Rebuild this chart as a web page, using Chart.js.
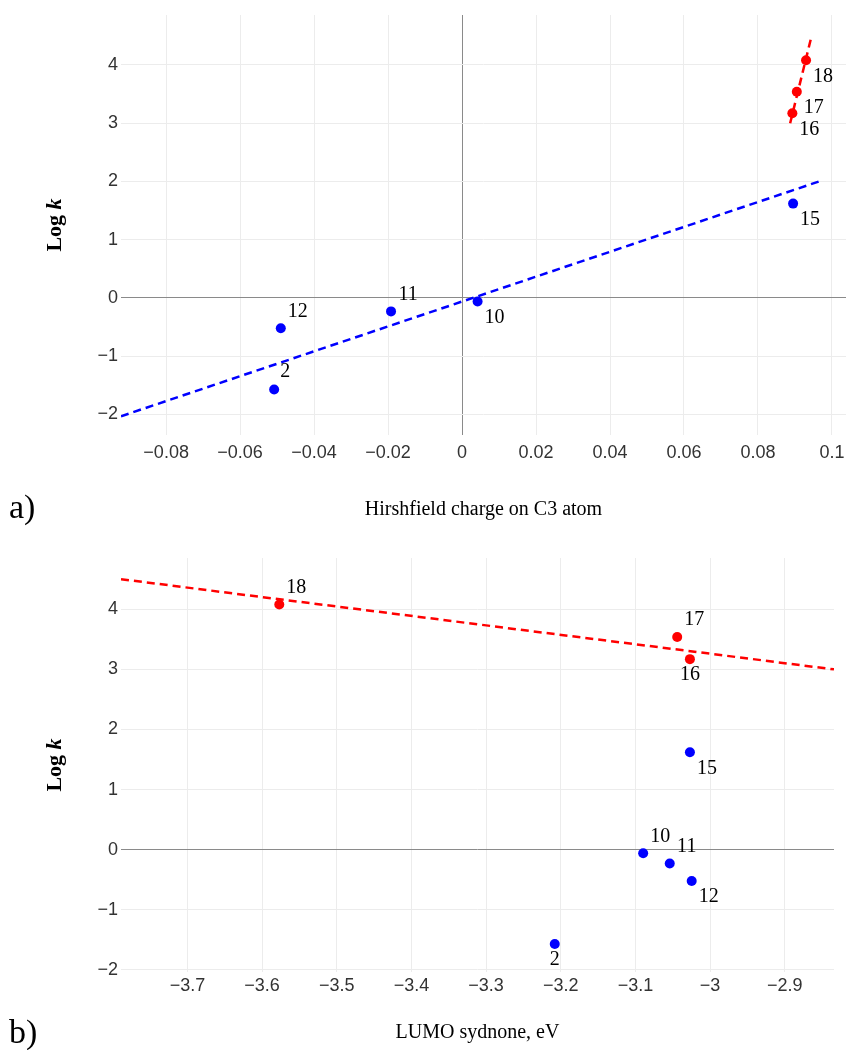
<!DOCTYPE html>
<html>
<head>
<meta charset="utf-8">
<script src="https://cdn.jsdelivr.net/npm/chart.js@4.4.1/dist/chart.umd.min.js"></script>
<style>
  html, body { margin: 0; padding: 0; background: #fff; }
  body { width: 846px; height: 1050px; position: relative; overflow: hidden; }
  canvas { position: absolute; left: 0; }
  #cA { top: 0; }
  #cB { top: 540px; }
</style>
</head>
<body>
<canvas id="cA" width="846" height="540"></canvas>
<canvas id="cB" width="846" height="510"></canvas>
<script>
// ---------- data ----------
const blueIds    = ['2', '10', '11', '12', '15'];
const blueLogK   = [-1.57, -0.06, -0.23, -0.52, 1.62];
const blueCharge = [-0.0508, 0.0042, -0.0192, -0.049, 0.0895];
const blueLumo   = [-3.208, -3.0896, -3.054, -3.0246, -3.027];

const redIds    = ['16', '17', '18'];
const redLogK   = [3.17, 3.54, 4.08];
const redCharge = [0.0893, 0.0905, 0.093];
const redLumo   = [-3.027, -3.044, -3.577];

// fitted trend lines (end points)
const fitBlueChargeX = [-0.0922, 0.0965];
const fitBlueChargeY = [-2.03, 2.0];
const fitRedChargeX  = [0.0887, 0.0945];
const fitRedChargeY  = [3.0, 4.5];
const fitRedLumoX    = [-3.789, -2.834];
const fitRedLumoY    = [4.5, 3.0];

// tick labels
const xTicksA = [-0.08, -0.06, -0.04, -0.02, 0, 0.02, 0.04, 0.06, 0.08, 0.1];
const xTicksB = [-3.7, -3.6, -3.5, -3.4, -3.3, -3.2, -3.1, -3, -2.9];
const yTicks  = [-2, -1, 0, 1, 2, 3, 4];

// axis titles / panel labels
const xTitleA = 'Hirshfield charge on C3 atom';
const xTitleB = 'LUMO sydnone, eV';
const panelA = 'a)';
const panelB = 'b)';

// label placement codes (per point, same order as ids)
const blueLabelPosA = ['nne', 'se', 'ne', 'ne', 'se'];
const redLabelPosA  = ['se', 'se', 'se'];
const blueLabelPosB = ['s', 'ne', 'ne', 'se', 'se'];
const redLabelPosB  = ['s', 'ne', 'ne'];

// ---------- helpers ----------
const OFFSETS = { ne: [17, -17], se: [17, 16], s: [0, 16], nne: [11, -18] };
const BLUE = '#0000ff', RED = '#ff0000';
const TICK_FONT = { family: "'Liberation Sans', Arial, sans-serif", size: 18 };
const SERIF = "'Liberation Serif', 'Times New Roman', serif";

const pts = (xs, ys) => xs.map((x, i) => ({ x: x, y: ys[i] }));
const fmt = v => {
  const s = String(Math.round(v * 1000) / 1000);
  return v < 0 ? '\u2212' + s.slice(1) : s;
};

const labelPlugin = {
  id: 'pointLabels',
  afterDatasetsDraw(chart) {
    const ctx = chart.ctx;
    const cfg = chart.options.plugins.pointLabels;
    ctx.save();
    ctx.font = '20px ' + SERIF;
    ctx.fillStyle = '#000';
    ctx.textAlign = 'center';
    ctx.textBaseline = 'middle';
    cfg.sets.forEach(s => {
      const meta = chart.getDatasetMeta(s.dataset);
      meta.data.forEach((el, i) => {
        const o = OFFSETS[s.pos[i]];
        ctx.fillText(s.ids[i], el.x + o[0], el.y + o[1]);
      });
    });
    // y axis title "Log k"
    const area = chart.chartArea;
    const cy = (area.top + area.bottom) / 2;
    ctx.translate(cfg.yTitleX, cy);
    ctx.rotate(-Math.PI / 2);
    ctx.font = 'bold 22px ' + SERIF;
    const w1 = ctx.measureText('Log ').width;
    ctx.font = 'italic bold 22px ' + SERIF;
    const w2 = ctx.measureText('k').width;
    ctx.textAlign = 'left';
    ctx.font = 'bold 22px ' + SERIF;
    ctx.fillText('Log ', -(w1 + w2) / 2, 0);
    ctx.font = 'italic bold 22px ' + SERIF;
    ctx.fillText('k', -(w1 + w2) / 2 + w1, 0);
    ctx.setTransform(1, 0, 0, 1, 0, 0);
    // panel label
    ctx.font = '34px ' + SERIF;
    ctx.textAlign = 'left';
    ctx.textBaseline = 'alphabetic';
    ctx.fillText(cfg.panel, cfg.panelX, cfg.panelY);
    ctx.restore();
  }
};

function gridColor(ctx) {
  return ctx.tick && Math.abs(ctx.tick.value) < 1e-9 ? '#8a8a8a' : '#ececec';
}

function makeChart(id, o) {
  return new Chart(document.getElementById(id), {
    type: 'scatter',
    data: {
      datasets: [
        { data: pts(o.fitBX || [], o.fitBY || []), showLine: true, borderColor: BLUE, borderWidth: 2.5,
          borderDash: [8, 5], pointRadius: 0, fill: false, order: 3 },
        { data: pts(o.fitRX, o.fitRY), showLine: true, borderColor: RED, borderWidth: 2.5,
          borderDash: [8, 5], pointRadius: 0, fill: false, order: 3 },
        { data: pts(o.blueX, blueLogK), backgroundColor: BLUE, borderWidth: 0, pointRadius: 5,
          pointHoverRadius: 5, order: 1 },
        { data: pts(o.redX, redLogK), backgroundColor: RED, borderWidth: 0, pointRadius: 5,
          pointHoverRadius: 5, order: 1 }
      ]
    },
    options: {
      responsive: false,
      animation: false,
      devicePixelRatio: 1,
      layout: { autoPadding: false, padding: { top: o.padTop, right: o.padRight, bottom: 0, left: 0 } },
      plugins: {
        legend: { display: false },
        tooltip: { enabled: false },
        pointLabels: {
          sets: [
            { dataset: 2, ids: blueIds, pos: o.bluePos },
            { dataset: 3, ids: redIds, pos: o.redPos }
          ],
          yTitleX: 55, panel: o.panel, panelX: 9, panelY: o.panelY
        }
      },
      scales: {
        x: {
          type: 'linear', min: o.xMin, max: o.xMax,
          afterBuildTicks: s => { s.ticks = o.xTicks.map(v => ({ value: v })); },
          afterFit: s => { s.height = o.xAxisH; s.paddingLeft = 0; s.paddingRight = 0; },
          ticks: { font: TICK_FONT, color: '#333', padding: o.xTickPad, callback: v => fmt(v), maxRotation: 0, autoSkip: false },
          grid: { color: gridColor, lineWidth: 1, drawTicks: false },
          border: { display: false },
          title: { display: true, text: o.xTitle, color: '#000',
                   font: { family: SERIF, size: 20 }, padding: { top: 0, bottom: o.xTitlePad } }
        },
        y: {
          type: 'linear', min: o.yMin, max: o.yMax,
          afterBuildTicks: s => { s.ticks = yTicks.map(v => ({ value: v })); },
          afterFit: s => { s.width = 121; s.paddingTop = 0; s.paddingBottom = 0; },
          ticks: { font: TICK_FONT, color: '#333', padding: 3, callback: v => fmt(v) },
          grid: { color: gridColor, lineWidth: 1, drawTicks: false },
          border: { display: false }
        }
      }
    },
    plugins: [labelPlugin]
  });
}

makeChart('cA', {
  fitBX: fitBlueChargeX, fitBY: fitBlueChargeY,
  fitRX: fitRedChargeX, fitRY: fitRedChargeY,
  blueX: blueCharge, redX: redCharge,
  bluePos: blueLabelPosA, redPos: redLabelPosA,
  xMin: -0.0922, xMax: 0.1038, yMin: -2.352, yMax: 4.858,
  xTicks: xTicksA, xTitle: xTitleA, panel: panelA, panelY: 518,
  padTop: 15, padRight: 0, xAxisH: 105, xTickPad: 7, xTitlePad: 18
});

makeChart('cB', {
  fitBX: [], fitBY: [],
  fitRX: fitRedLumoX, fitRY: fitRedLumoY,
  blueX: blueLumo, redX: redLumo,
  bluePos: blueLabelPosB, redPos: redLabelPosB,
  xMin: -3.789, xMax: -2.834, yMin: -2.035, yMax: 4.853,
  xTicks: xTicksB, xTitle: xTitleB, panel: panelB, panelY: 503,
  padTop: 18, padRight: 12, xAxisH: 78, xTickPad: 3, xTitlePad: 5
});
</script>
</body>
</html>
